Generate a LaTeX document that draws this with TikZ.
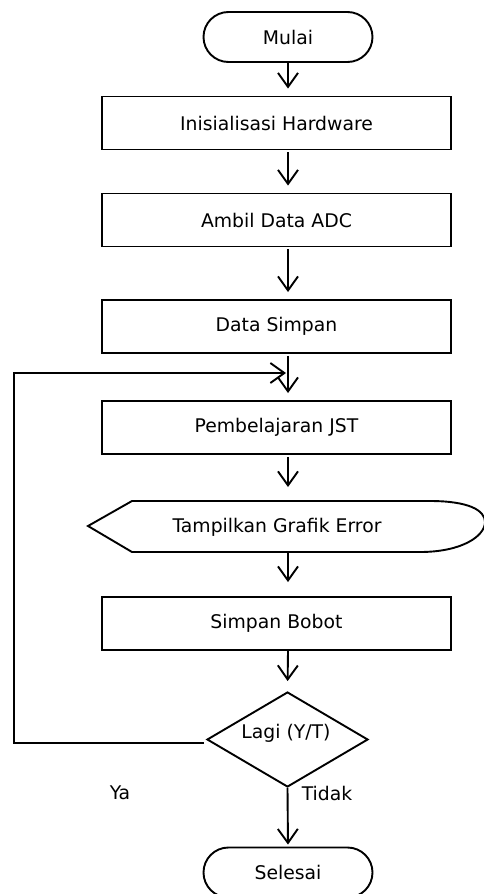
\documentclass[tikz,border=0pt]{standalone}
\usepackage{fontspec}
\setmainfont{DejaVu Sans}
\usetikzlibrary{shapes.misc,shapes.geometric,arrows.meta}
\begin{document}
\begin{tikzpicture}[x=1pt,y=-1pt,
  every node/.style={font=\fontsize{18.8}{21}\selectfont},
  line/.style={line width=1.9pt},
  arr/.style={line width=1.9pt,-{Straight Barb[length=14pt,width=20pt,line width=1.9pt]}},
  procbox/.style={draw,line width=1.9pt,rectangle,minimum width=349pt,minimum height=53pt,inner sep=0pt},
  term/.style={draw,line width=1.9pt,rounded rectangle,minimum width=169pt,minimum height=50pt,inner sep=0pt},
  decis/.style={draw,line width=1.9pt,diamond,minimum width=161pt,minimum height=95pt,inner sep=0pt}]
\useasboundingbox (0,0) rectangle (483,894);
\node[term] (mulai) at (288,37) {Mulai};
\node[procbox] (init) at (276.5,123) {Inisialisasi Hardware};
\node[procbox] (ambil) at (276.5,220) {Ambil Data ADC};
\node[procbox] (dsimpan) at (276.5,326.5) {Data Simpan};
\node[procbox] (pemb) at (276.5,427.5) {Pembelajaran JST};
\node (disp) at (277,527) {Tampilkan Grafik Error};
\draw[line] (132,501) -- (430,501) .. controls (468,501) and (485,510) .. (485,522)
  .. controls (485,536) and (462,552) .. (420,552) -- (132,552) -- (88,526) -- cycle;
\coordinate (dtop) at (288,501);
\coordinate (dbot) at (288,552);
\node[procbox] (sbobot) at (276.5,623.5) {Simpan Bobot};
\node[decis] (dec) at (287.5,739.5) {};
\node (dectext) at (286,733) {Lagi (Y/T)};
\node[term] (selesai) at (288,872.5) {Selesai};
\node (ya) at (120,793) {Ya};
\node (tidak) at (327,793) {Tidak};
\coordinate (lx) at (14,0);
\coordinate (join) at (288,373);
\coordinate (yastart) at (204,743);

\draw[arr,shorten >=7pt] (mulai.south) -- (mulai.south |- init.north);
\draw[arr,shorten >=7pt,shorten <=2pt] (mulai.south |- init.south) -- (mulai.south |- ambil.north);
\draw[arr,shorten >=7pt,shorten <=2pt] (mulai.south |- ambil.south) -- (mulai.south |- dsimpan.north);
\draw[arr,shorten >=7pt,shorten <=2pt] (mulai.south |- dsimpan.south) -- (mulai.south |- pemb.north);
\draw[arr,shorten >=14pt,shorten <=2pt] (mulai.south |- pemb.south) -- (dtop);
\draw[arr,shorten >=14pt] (dbot) -- (mulai.south |- sbobot.north);
\draw[arr,shorten >=10pt] (mulai.south |- sbobot.south) -- (dec.north);
\draw[arr,shorten >=2pt] (dec.south) -- (selesai.north);
\draw[arr,shorten >=2pt] (yastart) -- (lx |- yastart) -- (lx |- join) -- (join);
\end{tikzpicture}
\end{document}
